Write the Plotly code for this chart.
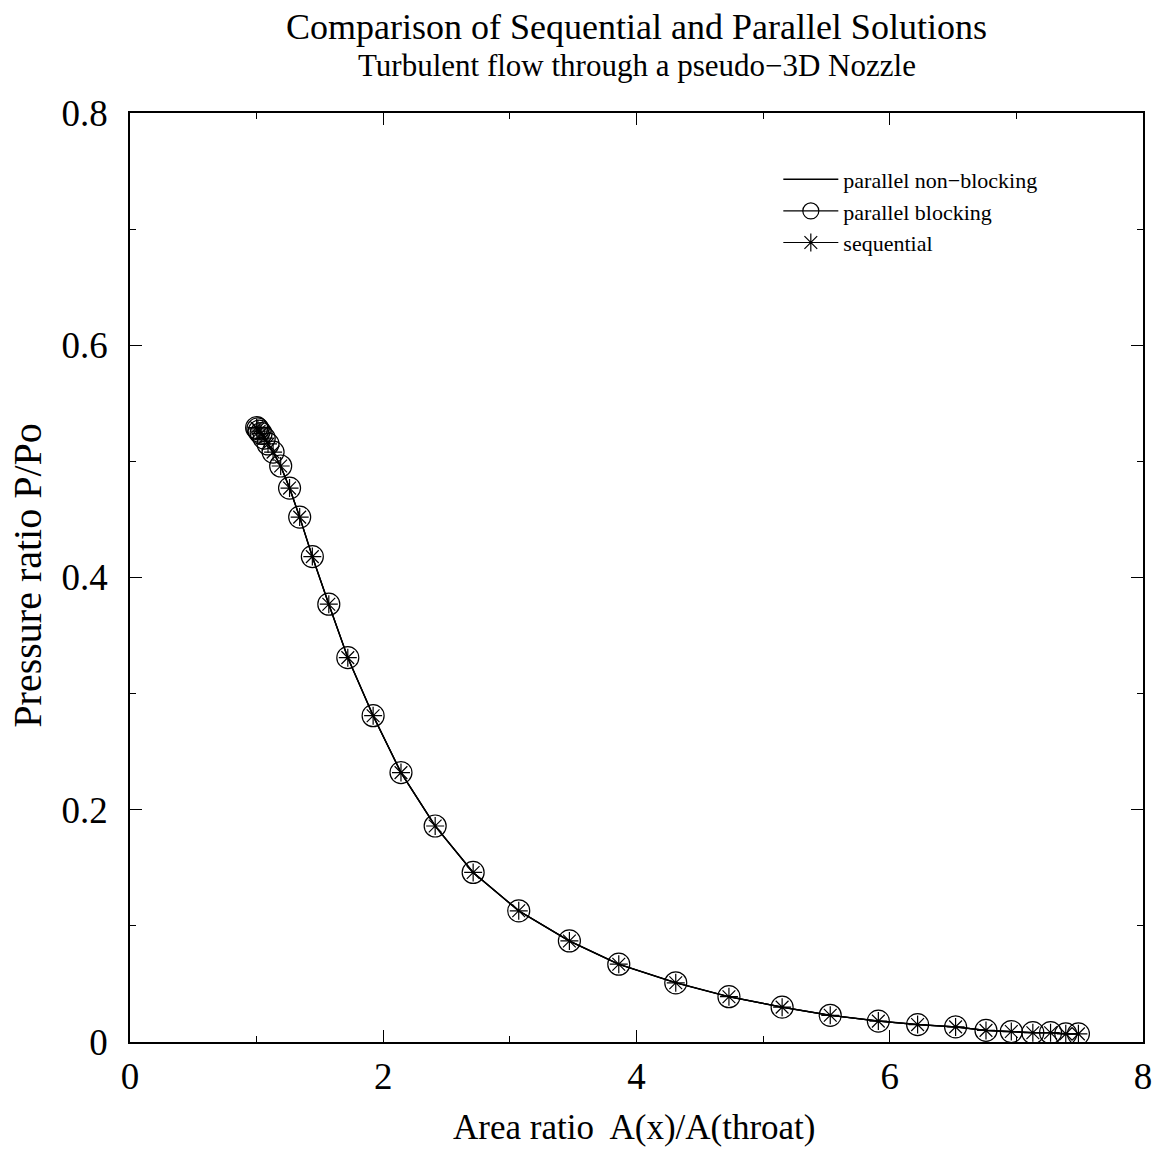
import plotly.graph_objects as go

area_ratio = [1.00, 1.01, 1.02, 1.035, 1.06, 1.09, 1.13, 1.19, 1.26, 1.34, 1.44, 1.57,
              1.72, 1.92, 2.14, 2.41, 2.71, 3.07, 3.47, 3.86, 4.31, 4.73, 5.15, 5.53,
              5.91, 6.22, 6.52, 6.76, 6.96, 7.13, 7.27, 7.39, 7.49]
p_nonblocking = [0.529, 0.528, 0.526, 0.524, 0.520, 0.515, 0.508, 0.496, 0.477, 0.452,
                 0.418, 0.377, 0.331, 0.281, 0.232, 0.186, 0.146, 0.113, 0.087, 0.067,
                 0.051, 0.039, 0.030, 0.023, 0.018, 0.015, 0.013, 0.010, 0.009, 0.008,
                 0.008, 0.007, 0.007]
p_blocking = list(p_nonblocking)
p_sequential = list(p_nonblocking)

x_tickvals = [0, 2, 4, 6, 8]
x_ticktext = ["0", "2", "4", "6", "8"]
y_tickvals = [0, 0.2, 0.4, 0.6, 0.8]
y_ticktext = ["0", "0.2", "0.4", "0.6", "0.8"]

title_text = "Comparison of Sequential and Parallel Solutions"
subtitle_text = "Turbulent flow through a pseudo\u22123D Nozzle"
x_title = "Area ratio  A(x)/A(throat)"
y_title = "Pressure ratio P/Po"

FONT = "Liberation Serif, Times New Roman, serif"

fig = go.Figure()
fig.add_trace(go.Scatter(
    x=area_ratio, y=p_nonblocking, mode="lines", name="parallel non\u2212blocking",
    line=dict(color="black", width=1.5)))
fig.add_trace(go.Scatter(
    x=area_ratio, y=p_blocking, mode="lines+markers", name="parallel blocking",
    line=dict(color="black", width=1.2),
    marker=dict(symbol="circle-open", size=22, color="black", line=dict(width=1.2, color="black"))))
fig.add_trace(go.Scatter(
    x=area_ratio, y=p_sequential, mode="lines+markers", name="sequential",
    line=dict(color="black", width=1.2),
    marker=dict(symbol="asterisk-open", size=15, color="black", line=dict(width=1.2, color="black"))))

axis_common = dict(
    showgrid=False, zeroline=False, showline=True, linecolor="black", linewidth=1.5,
    mirror="ticks", ticks="inside", ticklen=12, tickwidth=1.2, tickcolor="black",
    tickfont=dict(family=FONT, size=37, color="black"),
)

fig.update_xaxes(
    range=[0, 8], tickvals=x_tickvals, ticktext=x_ticktext, ticklabelstandoff=1,
    minor=dict(ticks="inside", ticklen=6, dtick=1, tickwidth=1.2, tickcolor="black"),
    **axis_common)
fig.update_yaxes(
    range=[0, 0.8], tickvals=y_tickvals, ticktext=y_ticktext, ticklabelstandoff=13,
    minor=dict(ticks="inside", ticklen=6, dtick=0.1, tickwidth=1.2, tickcolor="black"),
    **axis_common)

annotations = [
    dict(text=title_text, x=0.5, y=1.0926, font=dict(family=FONT, size=36, color="black")),
    dict(text=subtitle_text, x=0.5, y=1.0506, font=dict(family=FONT, size=31, color="black")),
    dict(text=x_title, x=0.498, y=-0.0915, font=dict(family=FONT, size=35, color="black")),
    dict(text=y_title, x=-0.1007, y=0.502, textangle=-90, font=dict(family=FONT, size=40, color="black")),
]
for a in annotations:
    a.update(xref="paper", yref="paper", xanchor="center", yanchor="middle", showarrow=False)

fig.update_layout(
    width=1163, height=1153,
    margin=dict(l=130, r=20, t=113, b=111),
    plot_bgcolor="white", paper_bgcolor="white",
    font=dict(family=FONT, color="black"),
    annotations=annotations,
    legend=dict(
        x=0.64, y=0.951, xanchor="left", yanchor="top",
        bgcolor="rgba(0,0,0,0)", borderwidth=0,
        font=dict(family=FONT, size=22, color="black"),
        itemwidth=55, tracegroupgap=0,
    ),
    showlegend=True,
)

fig.write_html("out.html")
